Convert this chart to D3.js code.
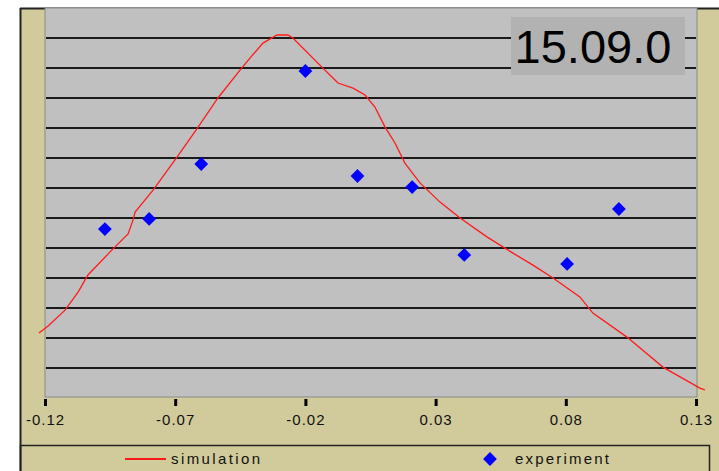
<!DOCTYPE html>
<html><head><meta charset="utf-8">
<script src="https://cdn.jsdelivr.net/npm/d3@7"></script>
<style>html,body{margin:0;padding:0;background:#fff;}svg{display:block;}</style>
</head><body>
<script>
const xTicks = [-0.12, -0.07, -0.02, 0.03, 0.08, 0.13];
const gridLevels = [1,2,3,4,5,6,7,8,9,10,11,12];
const simX = [-0.1223,-0.1188,-0.1123,-0.1073,-0.1035,-0.095,-0.0881,-0.0862,-0.0854,-0.0785,-0.0693,-0.0612,-0.0536,-0.0451,-0.0413,-0.0363,-0.0309,-0.0267,-0.0248,-0.0125,-0.0098,-0.0075,-0.0017,0.0029,0.0067,0.0106,0.0144,0.0182,0.024,0.0317,0.0394,0.0497,0.0597,0.0674,0.0751,0.0854,0.0904,0.1035,0.1173,0.1315,0.1334];
const simY = [2.17,2.4,2.93,3.53,4.1,4.87,5.47,5.93,6.2,6.93,8.03,9.03,10.0,10.93,11.33,11.83,12.1,12.1,12.0,10.93,10.7,10.5,10.33,10.1,9.7,9.03,8.5,7.83,7.17,6.53,6.0,5.37,4.83,4.43,4.0,3.37,2.83,2.03,1.03,0.33,0.27];
const expX = [-0.097,-0.08,-0.06,-0.02,0.0,0.021,0.041,0.0805,0.1004];
const expY = [5.63,5.97,7.8,10.9,7.4,7.03,4.77,4.47,6.3];
const labelText = "15.09.0";
const legendNames = ["simulation","experiment"];

const W = 719, H = 471;
const svg = d3.select("body").append("svg").attr("width", W).attr("height", H);
const tan = "#d1cb9b";
const plot = {l:45, r:697, t:8, b:398};
const x = d3.scaleLinear().domain([-0.12, 0.13]).range([45, 696]);
const y = d3.scaleLinear().domain([0, 13]).range([398, 8]);
const font = "Liberation Sans, Arial, sans-serif";

// outer frame background
svg.append("rect").attr("x",20).attr("y",8).attr("width",W-20).attr("height",H-8).attr("fill",tan);
svg.append("line").attr("x1",20).attr("x2",W).attr("y1",8.5).attr("y2",8.5).attr("stroke","#222").attr("stroke-width",2);
svg.append("line").attr("x1",20.5).attr("x2",20.5).attr("y1",8).attr("y2",H).attr("stroke","#222").attr("stroke-width",2);

// plot area
svg.append("rect").attr("x",plot.l).attr("y",plot.t).attr("width",plot.r-plot.l).attr("height",y(0)-plot.t-1)
  .attr("fill","#c0c0c0").attr("stroke","#8a8a8a").attr("stroke-width",1);

// gridlines
svg.append("g").selectAll("line").data(gridLevels).join("line")
  .attr("x1",plot.l+1).attr("x2",plot.r-1)
  .attr("y1",d=>y(d)).attr("y2",d=>y(d))
  .attr("stroke","#1a1a1a").attr("stroke-width",2);

// x axis ticks
const ax = svg.append("g").attr("transform","translate(0,399)")
  .call(d3.axisBottom(x).tickValues(xTicks).tickSize(7).tickFormat(d => d.toFixed(2)));
ax.select(".domain").remove();
ax.selectAll(".tick line").attr("stroke","#000").attr("stroke-width",3);
ax.selectAll(".tick text").attr("font-family",font).attr("font-size",15)
  .attr("fill","#111").attr("y",21).attr("dy","0.32em").attr("letter-spacing","1px");

// simulation line
svg.append("path").datum(simX.map((v,i)=>[v, simY[i]]))
  .attr("d", d3.line().x(d=>x(d[0])).y(d=>y(d[1])))
  .attr("fill","none").attr("stroke","#ff1a1a").attr("stroke-width",1.3);

// experiment points
const sym = d3.symbol().type(d3.symbolSquare).size(95);
svg.append("g").selectAll("path").data(expX.map((v,i)=>[v, expY[i]])).join("path")
  .attr("d", sym)
  .attr("transform", d=>`translate(${x(d[0])},${y(d[1])}) rotate(45)`)
  .attr("fill","#0000ff");

// label box
svg.append("rect").attr("x",511).attr("y",17).attr("width",174).attr("height",58).attr("fill","#b2b2b2");
svg.append("text").attr("x",593).attr("y",63).attr("text-anchor","middle")
  .attr("font-family",font).attr("font-size",47).attr("fill","#000").text(labelText);

// legend
svg.append("rect").attr("x",20.5).attr("y",445.5).attr("width",689).attr("height",40)
  .attr("fill","none").attr("stroke","#222").attr("stroke-width",1.5);
svg.append("line").attr("x1",125).attr("x2",166).attr("y1",459).attr("y2",459).attr("stroke","#ff1a1a").attr("stroke-width",2);
svg.append("text").attr("x",171).attr("y",459).attr("dy","0.35em")
  .attr("font-family",font).attr("font-size",15).attr("letter-spacing","2.4px")
  .attr("fill","#111").text(legendNames[0]);
svg.append("path").attr("d", sym).attr("transform","translate(490,459) rotate(45)").attr("fill","#0000ff");
svg.append("text").attr("x",515).attr("y",459).attr("dy","0.35em")
  .attr("font-family",font).attr("font-size",15).attr("letter-spacing","2.2px")
  .attr("fill","#111").text(legendNames[1]);
</script>
</body></html>
